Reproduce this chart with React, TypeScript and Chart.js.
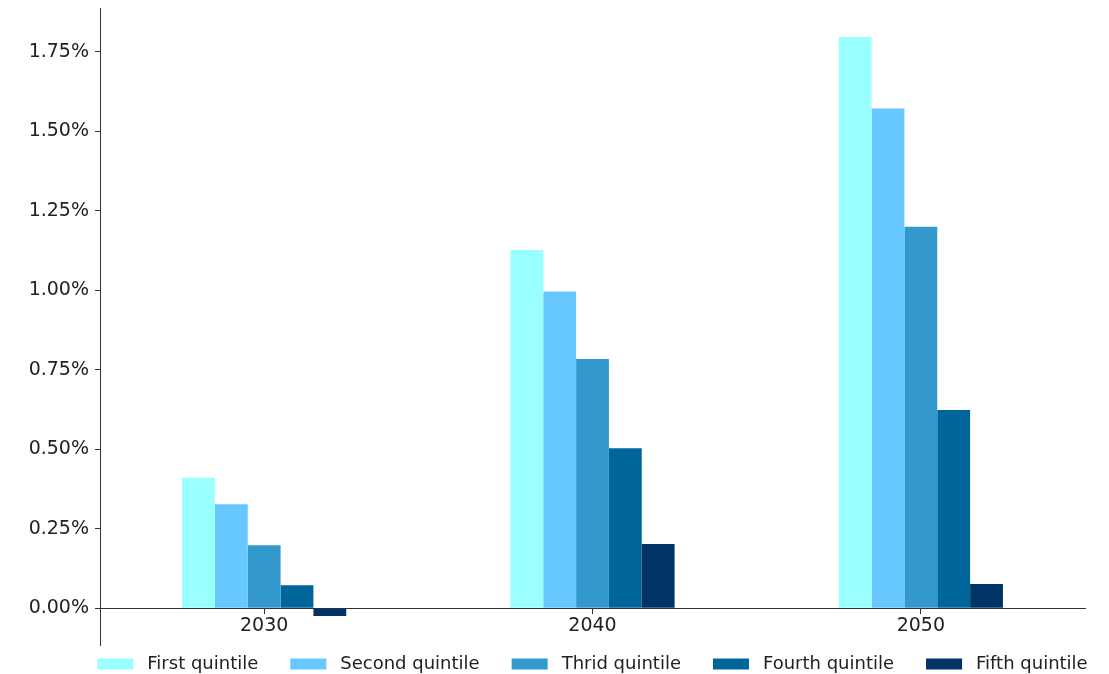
import React, { useEffect, useRef } from "react";
import { Chart, registerables } from "chart.js";

Chart.register(...registerables);

const categories = ["2030", "2040", "2050"];
const seriesLabels = ["First quintile", "Second quintile", "Thrid quintile", "Fourth quintile", "Fifth quintile"];
const firstQuintile = [0.41, 1.127, 1.797];
const secondQuintile = [0.327, 0.996, 1.572];
const thirdQuintile = [0.198, 0.784, 1.2];
const fourthQuintile = [0.072, 0.503, 0.623];
const fifthQuintile = [-0.025, 0.202, 0.076];
const seriesColors = ["#99FFFF", "#66C8FF", "#3399CC", "#006699", "#003366"];
const yTicks = [0, 0.25, 0.5, 0.75, 1.0, 1.25, 1.5, 1.75];

const FONT = '"DejaVu Sans", sans-serif';

const legendPlugin = {
  id: "bottomLegend",
  afterDraw(chart: any) {
    const ctx = chart.ctx;
    const { left, right } = chart.chartArea;
    ctx.save();
    ctx.font = `18px ${FONT}`;
    const boxW = 36;
    const boxH = 11;
    const gap = 14;
    const spacing = 32;
    const ds = chart.data.datasets;
    const widths = ds.map((d: any) => boxW + gap + ctx.measureText(d.label).width);
    const total = widths.reduce((a: number, b: number) => a + b, 0) + spacing * (widths.length - 1);
    let x = (left + right) / 2 - total / 2;
    const cy = chart.height - 10;
    ds.forEach((d: any, i: number) => {
      ctx.fillStyle = d.backgroundColor;
      ctx.fillRect(x, cy - boxH / 2, boxW, boxH);
      ctx.fillStyle = "#222";
      ctx.textBaseline = "middle";
      ctx.textAlign = "left";
      ctx.fillText(d.label, x + boxW + gap, cy);
      x += widths[i] + spacing;
    });
    ctx.restore();
  },
};

export default function App() {
  const ref = useRef<HTMLCanvasElement>(null);
  useEffect(() => {
    if (!ref.current) return;
    const values = [firstQuintile, secondQuintile, thirdQuintile, fourthQuintile, fifthQuintile];
    const chart = new Chart(ref.current, {
      type: "bar",
      data: {
        labels: categories,
        datasets: seriesLabels.map((label, i) => ({
          label,
          data: values[i],
          backgroundColor: seriesColors[i],
          borderWidth: 0,
          categoryPercentage: 0.5,
          barPercentage: 1.0,
        })),
      },
      options: {
        animation: false,
        responsive: true,
        maintainAspectRatio: false,
        layout: { padding: { top: 8, right: 24, bottom: 29, left: 0 } },
        plugins: {
          legend: { display: false },
          tooltip: { enabled: false },
        },
        scales: {
          x: {
            position: { y: 0 } as any,
            offset: true,
            grid: {
              display: true,
              drawOnChartArea: false,
              drawTicks: true,
              tickLength: 5,
              offset: false,
              color: "#333",
            },
            border: { display: true, color: "#333", width: 1 },
            ticks: { color: "#222", font: { family: FONT, size: 19 }, padding: 2 },
          },
          y: {
            min: -0.116,
            max: 1.888,
            afterBuildTicks: (scale: any) => {
              scale.ticks = yTicks.map((v) => ({ value: v }));
            },
            afterFit: (scale: any) => {
              scale.width = 100;
              scale.paddingTop = 0;
              scale.paddingBottom = 0;
            },
            grid: {
              display: true,
              drawOnChartArea: false,
              drawTicks: true,
              tickLength: 5,
              color: "#333",
            },
            border: { display: true, color: "#333", width: 1 },
            ticks: {
              color: "#222",
              font: { family: FONT, size: 19 },
              padding: 6,
              callback: (v: any) => Number(v).toFixed(2) + "%",
            },
          },
        },
      },
      plugins: [legendPlugin],
    });
    return () => chart.destroy();
  }, []);
  return (
    <div style={{ position: "fixed", left: 0, top: 0, width: 1109, height: 674, background: "#fff" }}>
      <canvas ref={ref} />
    </div>
  );
}
